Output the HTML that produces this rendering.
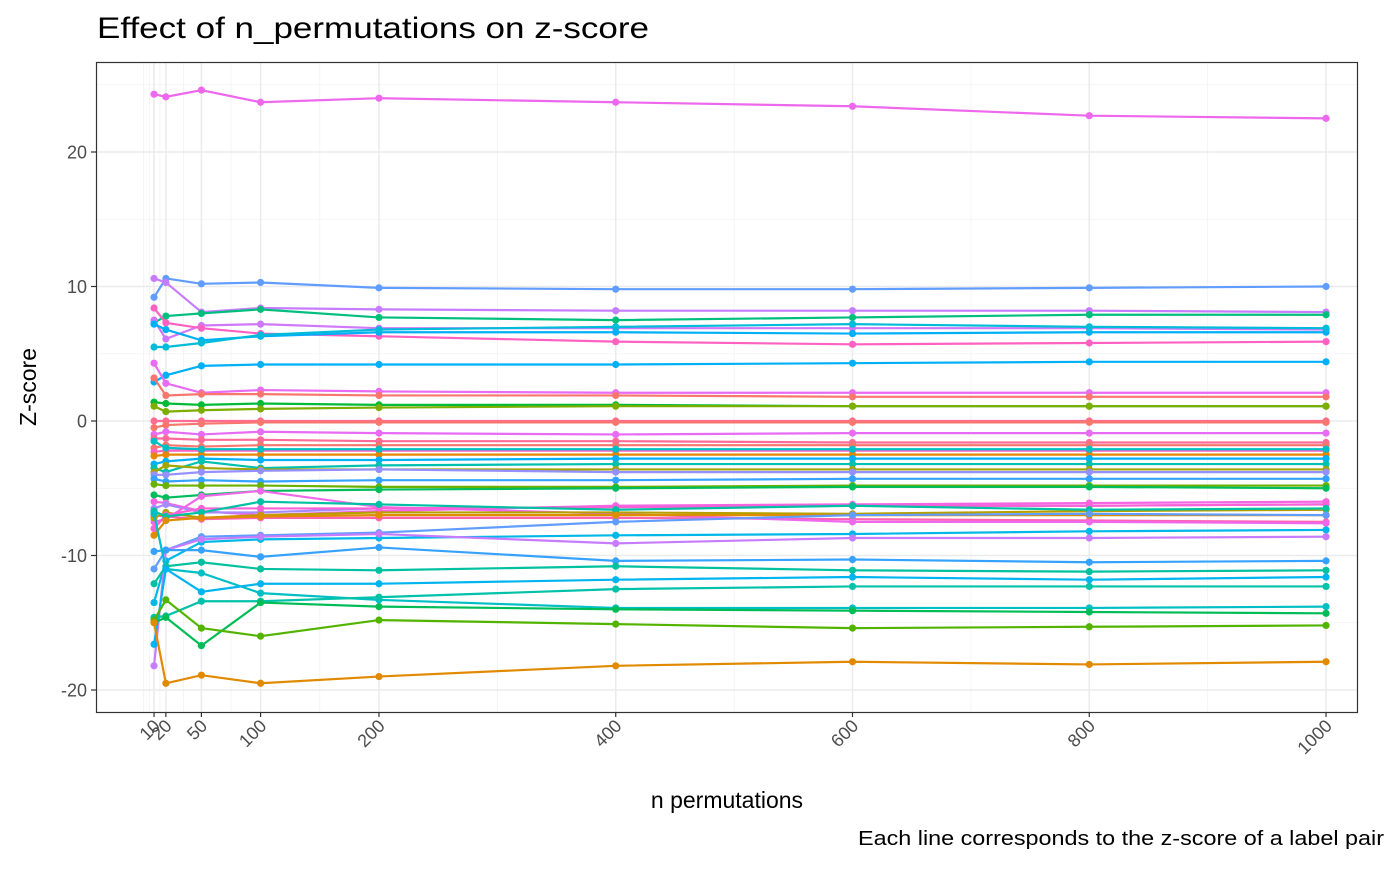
<!DOCTYPE html>
<html><head><meta charset="utf-8"><style>
body{margin:0;background:#fff;}
svg text{font-family:"Liberation Sans",sans-serif;}
</style></head><body>
<svg id="chart" width="1400" height="865" xmlns="http://www.w3.org/2000/svg">
<rect width="1400" height="865" fill="#fff"/>
<text x="97" y="38" font-size="30" textLength="552" lengthAdjust="spacingAndGlyphs" fill="#000">Effect of n_permutations on z-score</text>
<g id="grid"></g>
<g id="series"></g>
<rect x="96.5" y="62.5" width="1261" height="650" fill="none" stroke="#333" stroke-width="1.2"/>
<g id="axes"></g>
<text x="727" y="808" font-size="23" text-anchor="middle" fill="#000">n permutations</text>
<text transform="translate(36,387) rotate(-90)" font-size="23" text-anchor="middle" fill="#000">Z-score</text>
<text x="1384" y="845" font-size="20" text-anchor="end" textLength="526" lengthAdjust="spacingAndGlyphs" fill="#000">Each line corresponds to the z-score of a label pair</text>
</svg>
<script>
const xCats = [10,20,50,100,200,400,600,800,1000];
const xTicks = [10,20,50,100,200,400,600,800,1000];
const xMinor = [1,6,15,35,75,150,300,500,700,900];
const yTicks = [-20,-10,0,10,20];
const yMinor = [-15,-5,5,15,25];
const colors = ["#ED68ED","#619CFF","#C77CFF","#00BF7D","#D078FA","#FF61C3","#00B0F6","#00BCD8","#00B0F6","#E76BF3","#F8766D","#00BA38","#7CAE00","#FF6C91","#F8766D","#E76BF3","#FF6A98","#F8766D","#FF61C3","#E58700","#00BFC4","#00B0F6","#00C0AF","#A3A500","#9590FF","#35A2FF","#6BB100","#00BD5C","#F564E3","#A58AFF","#FF64B0","#EF67EB","#B79F00","#FB61D7","#00C1A3","#DE8C00","#619CFF","#00B8E7","#C77CFF","#35A2FF","#00C19F","#00BFC4","#00B4EF","#00C1A9","#00BC56","#53B400","#E18A00"];
const s01=[24.3,24.1,24.6,23.7,24.0,23.7,23.4,22.7,22.5];
const s02=[9.2,10.6,10.2,10.3,9.9,9.8,9.8,9.9,10.0];
const s03=[10.6,10.3,8.1,8.4,8.3,8.2,8.2,8.2,8.1];
const s04=[7.3,7.8,8.0,8.3,7.7,7.5,7.7,7.9,7.9];
const s05=[7.5,6.1,7.1,7.2,6.9,6.9,6.9,6.9,6.8];
const s06=[8.4,7.3,6.9,6.5,6.3,5.9,5.7,5.8,5.9];
const s07=[7.2,6.8,6.0,6.3,6.6,6.6,6.5,6.6,6.6];
const s08=[5.5,5.5,5.8,6.4,6.8,7.0,7.2,7.0,6.9];
const s09=[2.9,3.4,4.1,4.2,4.2,4.2,4.3,4.4,4.4];
const s10=[4.3,2.8,2.1,2.3,2.2,2.1,2.1,2.1,2.1];
const s11=[3.2,1.9,2.0,2.0,1.9,1.9,1.8,1.8,1.8];
const s12=[1.4,1.3,1.2,1.3,1.2,1.2,1.1,1.1,1.1];
const s13=[1.1,0.7,0.8,0.9,1.0,1.1,1.1,1.1,1.1];
const s14=[0.0,0.0,0.0,0.0,0.0,0.0,0.0,0.0,0.0];
const s15=[-0.5,-0.3,-0.2,-0.1,-0.1,-0.1,-0.1,-0.1,-0.1];
const s16=[-1.0,-0.8,-1.0,-0.8,-0.9,-1.0,-0.9,-0.9,-0.9];
const s17=[-1.3,-1.3,-1.4,-1.4,-1.5,-1.5,-1.6,-1.6,-1.6];
const s18=[-2.0,-1.8,-1.9,-1.8,-1.8,-1.8,-1.8,-1.8,-1.8];
const s19=[-2.3,-2.2,-2.2,-2.2,-2.2,-2.2,-2.2,-2.2,-2.2];
const s20=[-2.6,-2.5,-2.5,-2.5,-2.5,-2.5,-2.5,-2.5,-2.5];
const s21=[-1.5,-2.0,-2.1,-2.1,-2.1,-2.1,-2.1,-2.1,-2.1];
const s22=[-3.2,-3.0,-2.8,-2.9,-2.9,-2.8,-2.8,-2.8,-2.8];
const s23=[-3.5,-3.8,-3.0,-3.5,-3.3,-3.2,-3.2,-3.2,-3.2];
const s24=[-3.8,-3.3,-3.5,-3.6,-3.6,-3.6,-3.6,-3.6,-3.6];
const s25=[-4.0,-4.0,-3.8,-3.7,-3.6,-3.8,-3.8,-3.8,-3.8];
const s26=[-4.3,-4.5,-4.4,-4.5,-4.4,-4.4,-4.3,-4.3,-4.3];
const s27=[-4.7,-4.8,-4.8,-4.8,-4.9,-4.9,-4.8,-4.8,-4.8];
const s28=[-5.5,-5.7,-5.5,-5.2,-5.1,-5.0,-4.9,-4.9,-5.0];
const s29=[-6.0,-6.1,-6.7,-7.0,-6.7,-6.3,-6.2,-6.1,-6.0];
const s30=[-6.5,-6.2,-6.8,-6.8,-6.5,-6.4,-6.3,-6.3,-6.2];
const s31=[-7.0,-7.1,-7.3,-7.2,-7.2,-7.2,-7.3,-7.4,-7.5];
const s32=[-7.5,-7.3,-5.6,-5.2,-6.4,-6.9,-7.5,-7.5,-7.6];
const s33=[-7.2,-6.8,-7.2,-7.0,-6.8,-6.8,-6.9,-6.7,-6.6];
const s34=[-8.0,-7.0,-6.5,-6.5,-6.5,-6.4,-6.3,-6.3,-6.2];
const s35=[-6.7,-7.1,-6.8,-6.0,-6.2,-6.6,-6.3,-6.6,-6.5];
const s36=[-8.5,-7.4,-7.2,-7.1,-7.0,-7.0,-7.0,-7.0,-7.0];
const s37=[-11.0,-9.6,-8.6,-8.5,-8.3,-7.5,-7.0,-6.9,-7.0];
const s38=[-13.5,-10.4,-9.0,-8.8,-8.7,-8.5,-8.4,-8.2,-8.1];
const s39=[-18.2,-9.6,-8.8,-8.6,-8.4,-9.1,-8.7,-8.7,-8.6];
const s40=[-9.7,-9.6,-9.6,-10.1,-9.4,-10.4,-10.3,-10.5,-10.4];
const s41=[-12.1,-10.8,-10.5,-11.0,-11.1,-10.8,-11.1,-11.2,-11.1];
const s42=[-6.9,-11.0,-11.3,-12.8,-13.3,-13.9,-13.9,-13.9,-13.8];
const s43=[-16.6,-11.0,-12.7,-12.1,-12.1,-11.8,-11.6,-11.8,-11.6];
const s44=[-14.6,-14.5,-13.4,-13.4,-13.1,-12.5,-12.3,-12.3,-12.3];
const s45=[-15.0,-14.6,-16.7,-13.5,-13.8,-14.0,-14.1,-14.2,-14.3];
const s46=[-14.8,-13.3,-15.4,-16.0,-14.8,-15.1,-15.4,-15.3,-15.2];
const s47=[-15.0,-19.5,-18.9,-19.5,-19.0,-18.2,-17.9,-18.1,-17.9];
const seriesList=[s01,s02,s03,s04,s05,s06,s07,s08,s09,s10,s11,s12,s13,s14,s15,s16,s17,s18,s19,s20,s21,s22,s23,s24,s25,s26,s27,s28,s29,s30,s31,s32,s33,s34,s35,s36,s37,s38,s39,s40,s41,s42,s43,s44,s45,s46,s47];

const NS="http://www.w3.org/2000/svg";
const X0=96,X1=1357,Y0=62,Y1=712;
function xs(v){return 142.2+(v)*(1326-154)/990;}
function ys(v){return 421-v*13.45;}
function mk(tag,attrs,parent){const e=document.createElementNS(NS,tag);for(const k in attrs)e.setAttribute(k,attrs[k]);parent.appendChild(e);return e;}
const grid=document.getElementById('grid'),axes=document.getElementById('axes'),ser=document.getElementById('series');
xMinor.forEach(v=>{const l=mk('line',{x1:xs(v),x2:xs(v),y1:Y0,y2:Y1,stroke:'#F2F2F2','stroke-width':0.8},grid);

});
yMinor.forEach(v=>{const l=mk('line',{x1:X0,x2:X1,y1:ys(v),y2:ys(v),stroke:'#F2F2F2','stroke-width':0.8},grid);

});
xTicks.forEach(v=>{const l=mk('line',{x1:xs(v),x2:xs(v),y1:Y0,y2:Y1,stroke:'#EBEBEB','stroke-width':1.5},grid);


const t=mk('line',{x1:xs(v),x2:xs(v),y1:Y1,y2:Y1+5,stroke:'#333','stroke-width':1.2},axes);


const tx=mk('text',{transform:`translate(${xs(v)+7},${Y1+15}) rotate(-45)`,'font-size':18,'text-anchor':'end',fill:'#4D4D4D'},axes);
tx.textContent=v;

});
yTicks.forEach(v=>{const l=mk('line',{x1:X0,x2:X1,y1:ys(v),y2:ys(v),stroke:'#EBEBEB','stroke-width':1.5},grid);


const t=mk('line',{x1:X0-5,x2:X0,y1:ys(v),y2:ys(v),stroke:'#333','stroke-width':1.2},axes);


const tx=mk('text',{x:X0-9,y:ys(v)+6.5,'font-size':18,'text-anchor':'end',fill:'#4D4D4D'},axes);
tx.textContent=v;

});
seriesList.forEach((s,i)=>{const c=colors[i%colors.length];
const g=mk('g',{},ser);


const p=mk('polyline',{points:s.map((v,j)=>xs(xCats[j])+','+ys(v)).join(' '),fill:'none',stroke:c,'stroke-width':2.2},g);


s.forEach((v,j)=>{const d=mk('circle',{cx:xs(xCats[j]),cy:ys(v),r:3.6,fill:c},g);

});});
</script>
</body></html>
